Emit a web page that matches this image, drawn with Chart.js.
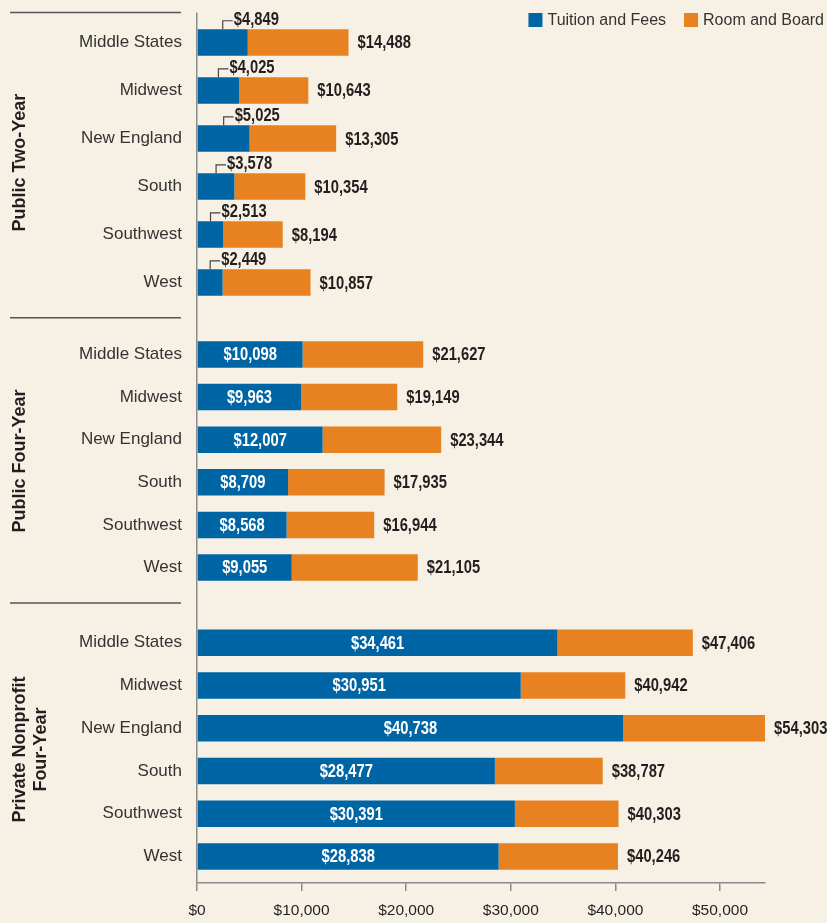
<!DOCTYPE html>
<html>
<head>
<meta charset="utf-8">
<script src="https://cdn.jsdelivr.net/npm/chart.js@4.4.1/dist/chart.umd.min.js"></script>
<style>
  html, body { margin: 0; padding: 0; background: #f7f1e5; }
  #wrap { width: 827px; height: 923px; position: relative; }
</style>
</head>
<body>
<div id="wrap"><canvas id="tuition-chart"></canvas></div>
<script>
// regions and sector groups
const regions = ['Middle States', 'Midwest', 'New England', 'South', 'Southwest', 'West'];
const sectorTitles = [['Public Two-Year'], ['Public Four-Year'], ['Private Nonprofit', 'Four-Year']];
const seriesNames = ['Tuition and Fees', 'Room and Board'];

// tuition and fees, and the total (tuition + room and board) printed at the bar end
const tuitionTwoYear = [4849, 4025, 5025, 3578, 2513, 2449];
const totalTwoYear = [14488, 10643, 13305, 10354, 8194, 10857];
const tuitionFourYear = [10098, 9963, 12007, 8709, 8568, 9055];
const totalFourYear = [21627, 19149, 23344, 17935, 16944, 21105];
const tuitionPrivate = [34461, 30951, 40738, 28477, 30391, 28838];
const totalPrivate = [47406, 40942, 54303, 38787, 40303, 40246];

const xTickStep = 10000;

const blue = '#0065a5';
const orange = '#e8811f';
const ink = '#231f20';
const axisGray = '#8a8a8a';
const sans = "'Liberation Sans', Arial, sans-serif";

const groups = [
  { title: sectorTitles[0], tuition: tuitionTwoYear, total: totalTwoYear, axis: 'yTwo' },
  { title: sectorTitles[1], tuition: tuitionFourYear, total: totalFourYear, axis: 'yFour' },
  { title: sectorTitles[2], tuition: tuitionPrivate, total: totalPrivate, axis: 'yPriv' },
];

const money = (v) => '$' + v.toLocaleString('en-US');

// each sector gets its own pair of stacked datasets on its own y axis
const datasets = [];
groups.forEach((g) => {
  const common = { yAxisID: g.axis, grouped: false, maxBarThickness: 26.5, borderWidth: 0 };
  datasets.push({ ...common, label: seriesNames[0], data: g.tuition, backgroundColor: blue });
  datasets.push({ ...common, label: seriesNames[1], data: g.total.map((t, i) => t - g.tuition[i]), backgroundColor: orange });
});

// left side: three category axes stacked on top of each other, with empty spacers between
function groupAxis(g, weight, stackWeight) {
  return {
    type: 'category',
    labels: regions,
    position: 'left',
    stack: 'sectors',
    stackWeight: stackWeight,
    weight: weight,
    stacked: true,
    offset: true,
    grid: { display: false, drawTicks: false },
    border: { display: false },
    ticks: { padding: 15, color: '#333333', font: { family: sans, size: 17 }, autoSkip: false },
    title: {
      display: true,
      text: g.title,
      color: ink,
      font: { family: sans, size: 18, weight: 'bold', lineHeight: 1.15 },
      padding: { top: 10, bottom: 0 },
    },
    afterFit: (s) => {
      s.width = 197;
      s.paddingTop = 0;
      s.paddingBottom = 0;
    },
  };
}
function spacer(weight, stackWeight) {
  return { type: 'linear', display: false, position: 'left', stack: 'sectors', stackWeight: stackWeight, weight: weight };
}

const separators = {
  id: 'separators',
  afterDraw(chart) {
    const { ctx, chartArea, scales } = chart;
    const ys = [chartArea.top];
    for (let i = 1; i < groups.length; i++) {
      ys.push((scales[groups[i - 1].axis].bottom + scales[groups[i].axis].top) / 2 - 2);
    }
    ctx.save();
    ctx.strokeStyle = '#555555';
    ctx.lineWidth = 1.5;
    ys.forEach((y) => {
      ctx.beginPath();
      ctx.moveTo(10, y);
      ctx.lineTo(181, y);
      ctx.stroke();
    });
    ctx.restore();
  },
};

// condensed look: squeeze the bold text horizontally
function squeezed(ctx, text, x, y) {
  const w = ctx.measureText(text).width;
  ctx.fillText(text, x, y, w * 0.82);
}

const valueLabels = {
  id: 'valueLabels',
  afterDatasetsDraw(chart) {
    const { ctx } = chart;
    ctx.save();
    ctx.font = `bold 18px ${sans}`;
    groups.forEach((g, gi) => {
      const tBars = chart.getDatasetMeta(gi * 2).data;
      const rBars = chart.getDatasetMeta(gi * 2 + 1).data;
      g.total.forEach((total, i) => {
        const tb = tBars[i];
        const rb = rBars[i];
        ctx.fillStyle = ink;
        ctx.textAlign = 'left';
        ctx.textBaseline = 'middle';
        squeezed(ctx, money(total), rb.x + 9, rb.y + 1);

        if (gi === 0) {
          // small bracket above the short blue segment
          const top = tb.y - tb.height / 2;
          const mx = (tb.base + tb.x) / 2;
          ctx.strokeStyle = '#444444';
          ctx.lineWidth = 1.2;
          ctx.beginPath();
          ctx.moveTo(mx, top);
          ctx.lineTo(mx, top - 8.5);
          ctx.lineTo(mx + 10, top - 8.5);
          ctx.stroke();
          ctx.textBaseline = 'alphabetic';
          squeezed(ctx, money(g.tuition[i]), mx + 11, top - 4.5);
        } else {
          ctx.fillStyle = '#ffffff';
          ctx.textAlign = 'center';
          squeezed(ctx, money(g.tuition[i]), (tb.base + tb.x) / 2, tb.y + 1);
        }
      });
    });
    ctx.restore();
  },
};

const topLegend = {
  id: 'topLegend',
  afterDraw(chart) {
    const { ctx } = chart;
    const colors = [blue, orange];
    ctx.save();
    ctx.font = `16px ${sans}`;
    const box = 14, gap = 5, between = 18;
    const widths = seriesNames.map((n) => ctx.measureText(n).width);
    const total = widths.reduce((a, w) => a + box + gap + w, 0) + between;
    let x = 824 - total;
    const y = 20;
    seriesNames.forEach((n, i) => {
      ctx.fillStyle = colors[i];
      ctx.fillRect(x, y - box / 2, box, box);
      x += box + gap;
      ctx.fillStyle = '#333333';
      ctx.textAlign = 'left';
      ctx.textBaseline = 'middle';
      ctx.fillText(n, x, y + 1);
      x += widths[i] + between;
    });
    ctx.restore();
  },
};

const ctx = document.getElementById('tuition-chart').getContext('2d');
new Chart(ctx, {
  type: 'bar',
  data: { labels: regions, datasets: datasets },
  options: {
    indexAxis: 'y',
    responsive: true,
    maintainAspectRatio: false,
    animation: false,
    layout: { padding: { top: 12.5, right: 62, bottom: 0, left: 0 } },
    plugins: { legend: { display: false }, tooltip: { enabled: false } },
    scales: {
      x: {
        type: 'linear',
        position: 'bottom',
        stacked: true,
        min: 0,
        max: Math.max(...totalTwoYear, ...totalFourYear, ...totalPrivate),
        afterBuildTicks: (s) => {
          const ticks = [];
          for (let v = 0; v <= s.max; v += xTickStep) ticks.push({ value: v });
          s.ticks = ticks;
        },
        grid: {
          color: (c) => (c.tick && c.tick.value === 0 ? axisGray : 'rgba(0,0,0,0)'),
          tickColor: axisGray,
          tickLength: 8,
          lineWidth: 1.5,
        },
        border: { color: axisGray, width: 1.5 },
        ticks: {
          padding: 10,
          color: ink,
          maxRotation: 0,
          autoSkip: false,
          font: { family: sans, size: 15.5 },
          callback: (v) => money(v),
        },
        afterFit: (s) => { s.height = 40; },
      },
      s0: spacer(7, 6),
      yTwo: groupAxis(groups[0], 6, 288),
      s1: spacer(5, 26.5),
      yFour: groupAxis(groups[1], 4, 255.6),
      s2: spacer(3, 32.6),
      yPriv: groupAxis(groups[2], 2, 256.3),
      s3: spacer(1, 5.2),
    },
  },
  plugins: [separators, valueLabels, topLegend],
});
</script>
</body>
</html>
